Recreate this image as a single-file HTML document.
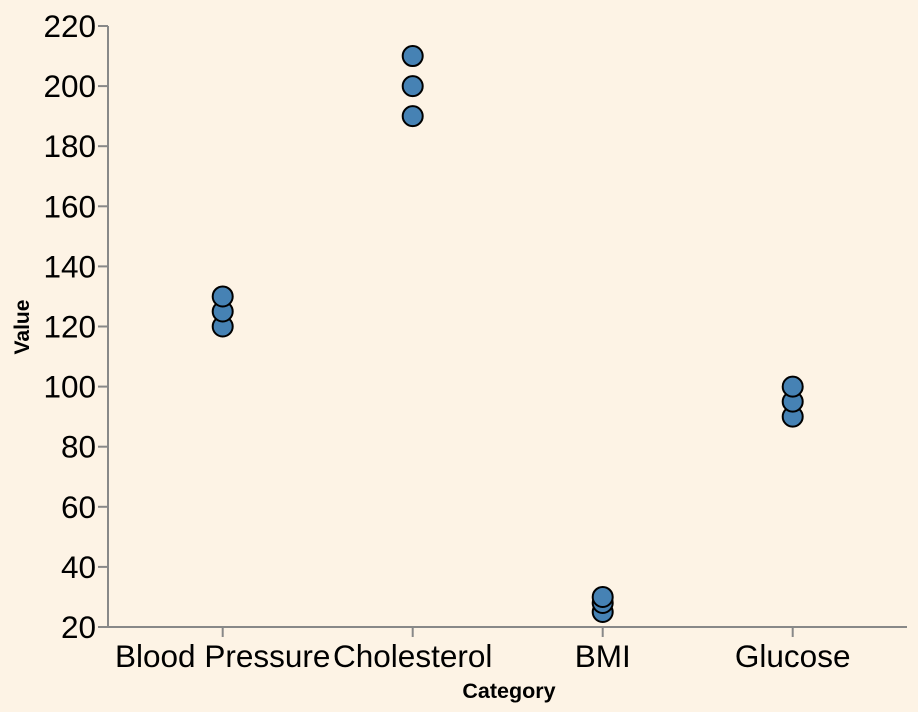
<!DOCTYPE html>
<html><head><meta charset="utf-8"><style>
body{margin:0;background:#fdf3e5;}
svg{display:block;font-family:"Liberation Sans",Arial,sans-serif;}
</style></head><body>
<svg id="chart" width="918" height="712">
<rect width="918" height="712" fill="#fdf3e5"/>
<g id="axes"></g><g id="marks"></g>
<text x="509" y="698" text-anchor="middle" font-size="21.5" font-weight="bold">Category</text>
<text transform="translate(29,327) rotate(-90)" text-anchor="middle" font-size="21" font-weight="bold">Value</text>
</svg>
<script>
const categories = ["Blood Pressure","Cholesterol","BMI","Glucose"];
const seriesCategory = ["Blood Pressure","Blood Pressure","Blood Pressure","Cholesterol","Cholesterol","Cholesterol","BMI","BMI","BMI","Glucose","Glucose","Glucose"];
const seriesValues = [120,125,130,190,200,210,25,28,30,90,95,100];
const yTicks = [20,40,60,80,100,120,140,160,180,200,220];
const NS="http://www.w3.org/2000/svg";
const x0=108,x1=907,y0=627,y1=26,yMin=20,yMax=220;
function xScale(c){const i=categories.indexOf(c);return 222.7+190*i;}
function yScale(v){return y0-(v-yMin)/(yMax-yMin)*(y0-y1);}
function mk(tag,attrs,parent){const e=document.createElementNS(NS,tag);for(const k in attrs)e.setAttribute(k,attrs[k]);parent.appendChild(e);return e;}
const axes=document.getElementById('axes'),marks=document.getElementById('marks');
let l=mk('line',{x1:x0,x2:x0,y1:y1,y2:y0,stroke:'#888','stroke-width':2},axes);


l=mk('line',{x1:x0,x2:x1,y1:y0,y2:y0,stroke:'#888','stroke-width':2},axes);


yTicks.forEach(t=>{const y=yScale(t);
 const tk=mk('line',{x1:x0-10,x2:x0,y1:y,y2:y,stroke:'#888','stroke-width':2},axes);
 
 
 const tx=mk('text',{x:x0-12,y:y+11,'text-anchor':'end','font-size':31.5,fill:'#000'},axes);tx.textContent=t;
 
 
});
categories.forEach(c=>{const x=xScale(c);
 const tk=mk('line',{x1:x,x2:x,y1:y0,y2:y0+10,stroke:'#888','stroke-width':2},axes);
 
 
 const tx=mk('text',{x:x,y:667,'text-anchor':'middle','font-size':31.5,fill:'#000'},axes);tx.textContent=c;
 
 
});
seriesValues.forEach((v,i)=>{
 const p=mk('circle',{cx:xScale(seriesCategory[i]),cy:yScale(v),r:10,fill:'#4682b4',stroke:'#000','stroke-width':2},marks);
 
 
});
</script>
</body></html>
